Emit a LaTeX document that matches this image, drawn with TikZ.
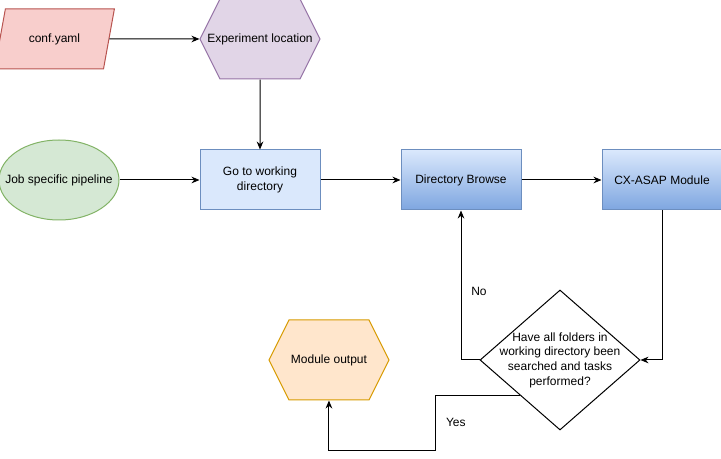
\documentclass[tikz,border=0pt]{standalone}
\usepackage{fontspec}
\setmainfont{Liberation Sans}
\usepackage{tikz}
\usetikzlibrary{arrows.meta,positioning,shapes.geometric,shapes.symbols}

\definecolor{confFill}{HTML}{F8CECC}
\definecolor{confLine}{HTML}{B85450}
\definecolor{expFill}{HTML}{E1D5E7}
\definecolor{expLine}{HTML}{9673A6}
\definecolor{jobFill}{HTML}{D5E8D4}
\definecolor{jobLine}{HTML}{82B366}
\definecolor{boxFill}{HTML}{DAE8FC}
\definecolor{boxDark}{HTML}{7EA6E0}
\definecolor{boxLine}{HTML}{6C8EBF}
\definecolor{outFill}{HTML}{FFE6CC}
\definecolor{outLine}{HTML}{D79B00}

\begin{document}
\begin{tikzpicture}[
    x=0.75pt, y=-0.75pt,
    node distance=52.5pt and 60pt,
    font=\fontsize{9}{11}\selectfont,
    inbox/.style={trapezium, trapezium left angle=71.57, trapezium right angle=108.43, trapezium stretches=true, draw=confLine, fill=confFill, line width=0.75pt, minimum width=90pt, minimum height=45pt},
    hexbox/.style={signal, signal to=east and west, signal pointer angle=126.87, line width=0.75pt, minimum width=90pt, minimum height=60pt, inner sep=0pt},
    startbox/.style={ellipse, draw=jobLine, fill=jobFill, line width=0.75pt, minimum width=90pt, minimum height=60pt, inner sep=0pt},
    procbox/.style={rectangle, draw=boxLine, fill=boxFill, line width=0.75pt, minimum width=90pt, minimum height=45pt, align=center},
    darkbox/.style={rectangle, draw=boxLine, top color=boxFill, bottom color=boxDark, line width=0.75pt, minimum width=90pt, minimum height=45pt, align=center},
    decision/.style={diamond, draw=black, fill=white, line width=0.75pt, minimum width=120pt, minimum height=105pt, inner sep=0pt},
    line/.style={draw, line width=0.75pt, -{Stealth[length=6pt, width=5pt]}}
]
    \useasboundingbox (0,0) rectangle (721,459);

    % Main row
    \node[procbox] (gowd) at (260,180) {Go to working\\directory};
    \node[darkbox, right=of gowd] (browse) {Directory Browse};
    \node[darkbox, right=of browse] (cxasap) {CX-ASAP Module};
    \node[startbox, left=of gowd] (job) {\makebox[0pt]{Job specific pipeline}};

    % Inputs
    \node[hexbox, draw=expLine, fill=expFill, above=of gowd] (exploc) {\makebox[60pt]{Experiment location}};
    \node[inbox, left=67.5pt of exploc] (conf) {conf.yaml};

    % Check and output
    \node[decision, label={[align=center]center:Have all folders in\\working directory been\\searched and tasks\\performed?}] (check) at (560,360) {};
    \node[hexbox, draw=outLine, fill=outFill, left=67.5pt of check] (modout) {Module output};

    % Connecting lines
    \path[line] (conf) -- (exploc);
    \path[line] (exploc) -- (gowd);
    \path[line] (job) -- (gowd);
    \path[line] (gowd) -- (browse);
    \path[line] (browse) -- (cxasap);
    \path[line] (cxasap.south) |- (check.east);
    \path[line] (check.west) -| node[pos=0.73, right=4pt] {No} (browse.south);
    \path[line] (check.south west) -- ++(-84,0) -- node[right=4pt] {Yes} ++(0,55) -| (modout.south);
\end{tikzpicture}
\end{document}
